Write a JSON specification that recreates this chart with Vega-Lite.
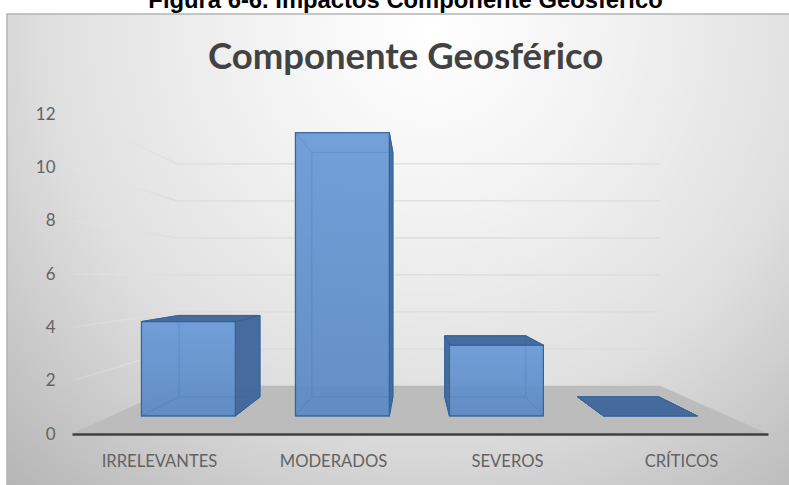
{
"$schema":"https://vega.github.io/schema/vega-lite/v6.json",
"width":696,"height":320,"autosize":"none",
"padding":{"left":72,"right":21,"top":114,"bottom":51},
"background":"white",
"config":{"view":{"stroke":null}},
"datasets":{
"impactos":[{"categoria":"IRRELEVANTES","valor":4},{"categoria":"MODERADOS","valor":12},{"categoria":"SEVEROS","valor":3},{"categoria":"CRÍTICOS","valor":0}],
"niveles":[{"nivel":2},{"nivel":4},{"nivel":6},{"nivel":8},{"nivel":10},{"nivel":12}]
},
"layer":[
{"data":{"values":[{"texto":"Figura 6-6. Impactos Componente Geosférico"}]},
 "mark":{"type":"text","clip":false,"align":"center","baseline":"alphabetic","font":"Liberation Sans","fontSize":23.8,"fontWeight":"bold","color":"#000000"},
 "encoding":{
  "text":{"field":"texto"},
  "x":{"datum":1.917,"type":"quantitative","scale":{"domain":[0,4],"nice":false,"zero":false},
   "axis":{"title":null,"values":[0.5,1.5,2.5,3.5],"labelExpr":"['IRRELEVANTES','MODERADOS','SEVEROS','CRÍTICOS'][floor(datum.value)]","ticks":false,"grid":false,"zindex":1,"domainColor":"#404040","domainWidth":2.5,"labelFont":"Lato","labelFontSize":16.6,"labelColor":"#636363","labelPadding":27,"labelAngle":0,"labelBaseline":"middle","labelFlush":false,"labelOverlap":false}},
  "y":{"datum":15.97,"type":"quantitative","scale":{"domain":[0,12],"nice":false,"zero":false},
   "axis":{"title":null,"values":[0,2,4,6,8,10,12],"ticks":false,"grid":false,"domain":false,"zindex":1,"labelFont":"Lato","labelFontSize":17,"labelColor":"#636363","labelPadding":17}}
 }},
{"data":{"values":[{}]},
 "mark":{"type":"rect","clip":false,"stroke":"#b4b4b4","strokeWidth":1.5,"fill":{"gradient":"radial","x1":0.54,"y1":0.22,"r1":0,"x2":0.54,"y2":0.22,"r2":0.8,"stops":[{"offset":0,"color":"#ffffff"},{"offset":0.25,"color":"#f4f4f4"},{"offset":0.6,"color":"#e0e0e0"},{"offset":1,"color":"#b4b4b4"}]}},
 "encoding":{
  "x":{"datum":-0.3736,"type":"quantitative"},
  "x2":{"datum":4.14},
  "y":{"datum":-2.0,"type":"quantitative"},
  "y2":{"datum":15.75}
 }},
{"data":{"values":[{"texto":"Componente Geosférico"}]},
 "mark":{"type":"text","clip":false,"align":"center","baseline":"alphabetic","font":"Lato","fontSize":36.5,"fontWeight":"bold","color":"#424242"},
 "encoding":{"text":{"field":"texto"},"x":{"datum":1.917,"type":"quantitative"},"y":{"datum":13.69,"type":"quantitative"}}},
{"data":{"values":[{"piso":"suelo"}]},
 "transform":[
  {"calculate":"[{orden:0,x:0,f:1},{orden:1,x:4,f:1},{orden:2,x:4,f:0.694},{orden:3,x:0,f:0.694}]","as":"esquinas"},
  {"flatten":["esquinas"],"as":["esquina"]},
  {"calculate":"datum.esquina.orden","as":"orden"},
  {"calculate":"1.971+(datum.esquina.x-1.971)*datum.esquina.f","as":"xp"},
  {"calculate":"5.89-5.89*datum.esquina.f","as":"yp"}
 ],
 "mark":{"type":"line","interpolate":"linear-closed","fill":"#bcbcbc","stroke":"#bcbcbc","strokeWidth":0.5,"clip":false},
 "encoding":{"x":{"field":"xp","type":"quantitative"},"y":{"field":"yp","type":"quantitative"},"order":{"field":"orden"}}},
{"data":{"name":"niveles"},
 "transform":[
  {"calculate":"[{orden:0,f:1},{orden:1,f:0.694}]","as":"esquinas"},
  {"flatten":["esquinas"],"as":["esquina"]},
  {"calculate":"datum.esquina.orden","as":"orden"},
  {"calculate":"1.971-1.971*datum.esquina.f","as":"xp"},
  {"calculate":"5.89+(datum.nivel-5.89)*datum.esquina.f","as":"yp"}
 ],
 "mark":{"type":"line","strokeWidth":1.5,"clip":false,"stroke":{"gradient":"linear","x1":0,"y1":0,"x2":1,"y2":0,"stops":[{"offset":0,"color":"rgba(232,232,232,0.15)"},{"offset":1,"color":"#dcdcdc"}]}},
 "encoding":{"x":{"field":"xp","type":"quantitative"},"y":{"field":"yp","type":"quantitative"},"detail":{"field":"nivel"},"order":{"field":"orden"}}},
{"data":{"name":"niveles"},
 "transform":[
  {"calculate":"[{orden:0,x:0},{orden:1,x:4}]","as":"esquinas"},
  {"flatten":["esquinas"],"as":["esquina"]},
  {"calculate":"datum.esquina.orden","as":"orden"},
  {"calculate":"1.971+(datum.esquina.x-1.971)*0.694","as":"xp"},
  {"calculate":"5.89+(datum.nivel-5.89)*0.694","as":"yp"}
 ],
 "mark":{"type":"line","strokeWidth":1.2,"stroke":"#dcdcdc","clip":false},
 "encoding":{"x":{"field":"xp","type":"quantitative"},"y":{"field":"yp","type":"quantitative"},"detail":{"field":"nivel"},"order":{"field":"orden"}}},
{"data":{"name":"impactos"},
 "transform":[
  {"calculate":"indexof(['IRRELEVANTES','MODERADOS','SEVEROS','CRÍTICOS'],datum.categoria)","as":"indice"},
  {"calculate":"[{cara:'fondo',orden:0,l:0,p:1,a:0},{cara:'fondo',orden:1,l:1,p:1,a:0},{cara:'fondo',orden:2,l:1,p:1,a:1},{cara:'fondo',orden:3,l:0,p:1,a:1},{cara:'izq',orden:0,l:0,p:0,a:0},{cara:'izq',orden:1,l:0,p:1,a:0},{cara:'izq',orden:2,l:0,p:1,a:1},{cara:'izq',orden:3,l:0,p:0,a:1},{cara:'base',orden:0,l:0,p:0,a:0},{cara:'base',orden:1,l:1,p:0,a:0},{cara:'base',orden:2,l:1,p:1,a:0},{cara:'base',orden:3,l:0,p:1,a:0},{cara:'der',orden:0,l:1,p:0,a:0},{cara:'der',orden:1,l:1,p:1,a:0},{cara:'der',orden:2,l:1,p:1,a:1},{cara:'der',orden:3,l:1,p:0,a:1},{cara:'techo',orden:0,l:0,p:0,a:1},{cara:'techo',orden:1,l:1,p:0,a:1},{cara:'techo',orden:2,l:1,p:1,a:1},{cara:'techo',orden:3,l:0,p:1,a:1},{cara:'frente',orden:0,l:0,p:0,a:0},{cara:'frente',orden:1,l:1,p:0,a:0},{cara:'frente',orden:2,l:1,p:0,a:1},{cara:'frente',orden:3,l:0,p:0,a:1}]","as":"esquinas"},
  {"flatten":["esquinas"],"as":["esquina"]},
  {"calculate":"datum.esquina.cara","as":"cara"},
  {"calculate":"datum.esquina.orden","as":"orden"},
  {"calculate":"datum.categoria+'-'+datum.cara","as":"clave"},
  {"calculate":"datum.esquina.p==1?0.764:0.885","as":"f"},
  {"calculate":"1.971+(datum.indice+0.5+(datum.esquina.l-0.5)*0.61-1.971)*datum.f","as":"xp"},
  {"calculate":"5.89+(datum.esquina.a*datum.valor-5.89)*datum.f","as":"yp"},
  {"calculate":"(datum.cara=='der'&&datum.indice+0.805<1.971)||(datum.cara=='izq'&&datum.indice+0.195>1.971)||(datum.cara=='techo'&&datum.valor<5.89)?'exterior':(datum.cara=='frente'?'frente':'interior')","as":"tono"}
 ],
 "encoding":{"x":{"field":"xp","type":"quantitative"},"y":{"field":"yp","type":"quantitative"},"detail":{"field":"clave"},"order":{"field":"orden"}},
 "layer":[
  {"transform":[{"filter":"datum.tono=='interior'"}],"mark":{"type":"line","interpolate":"linear-closed","clip":false,"fill":"#6493cf","fillOpacity":0.6,"stroke":"#3f6fa8","strokeWidth":1}},
  {"transform":[{"filter":"datum.tono=='frente'"}],"mark":{"type":"line","interpolate":"linear-closed","clip":false,"fill":{"gradient":"linear","x1":0,"y1":0,"x2":0,"y2":1,"stops":[{"offset":0,"color":"#6b9bd7"},{"offset":1,"color":"#5a89c3"}]},"fillOpacity":0.85,"stroke":"#33649e","strokeWidth":1.2}},
  {"transform":[{"filter":"datum.tono=='exterior'"}],"mark":{"type":"line","interpolate":"linear-closed","clip":false,"fill":"#41689a","fillOpacity":0.95,"stroke":"#33649e","strokeWidth":1}}
 ]}
]
}
